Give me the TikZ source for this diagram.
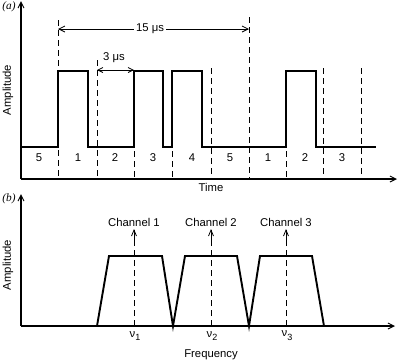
\documentclass[tikz,border=0pt]{standalone}
\usepackage{fontspec}
\setmainfont{Liberation Sans}
\newfontfamily\seriffont{Liberation Serif}
\usetikzlibrary{arrows.meta}
\newcommand{\nusub}[1]{ν\raisebox{-0.35em}{\fontsize{9}{9}\selectfont #1}}
\begin{document}
\begin{tikzpicture}[x=1pt,y=-1pt,
  axisline/.style={line width=1.3pt,-{Straight Barb[length=6pt,width=6pt,line width=1pt]}},
  signal/.style={line width=1.9pt,line join=miter,line cap=rect},
  guide/.style={line width=0.9pt,dash pattern=on 6pt off 4pt},
  dimarrow/.style={line width=0.8pt},
  lbl/.style={font=\fontsize{11.3}{13}\selectfont,inner sep=0pt},
  tag/.style={font=\seriffont\itshape\fontsize{11.3}{13}\selectfont,inner sep=0pt}]
\useasboundingbox (0,0) rectangle (400,362);

% ---------------- (a) ----------------
\node[tag] (taga) at (9,7) {(a)};
\coordinate (ao) at (21,179);
\coordinate (ay) at (21,1);
\coordinate (ax) at (397,179);
\draw[axisline] (ao) -- (ay);
\draw[axisline] (ao) -- (ax);
\node[lbl,rotate=90] (ampa) at (8,90) {Amplitude};
\node[lbl] (time) at (211,187) {Time};

% dashed slot boundaries
\draw[guide] (58,20) -- (58,179);
\draw[guide] (97,60) -- (97,179);
\draw[guide] (134,71) -- (134,179);
\draw[guide] (172,71) -- (172,179);
\draw[guide] (211,68) -- (211,179);
\draw[guide] (249,17) -- (249,179);
\draw[guide] (286,71) -- (286,179);
\draw[guide] (323,68) -- (323,179);
\draw[guide] (361,68) -- (361,179);

% signal
\draw[signal] (21,147) -- (58,147) -- (58,71) -- (88,71) -- (88,147) -- (134,147)
  -- (134,71) -- (163,71) -- (163,147) -- (172,147) -- (172,71) -- (202,71)
  -- (202,147) -- (286,147) -- (286,71) -- (316,71) -- (316,147) -- (375,147);

% slot numbers
\foreach \x/\t [count=\i] in {39/5,78/1,115/2,153/3,192/4,230/5,268/1,305/2,342/3}
  \node[lbl] (slot\i) at (\x,158) {\t};

% 15 us
\node[lbl,fill=white,inner sep=2pt] (fifteen) at (150,29) {15 μs};
\coordinate (fl) at (58,29);
\coordinate (fr) at (249,29);
\draw[dimarrow,-{Straight Barb[length=6pt,width=6pt]}] (fifteen) -- (fl);
\draw[dimarrow,-{Straight Barb[length=6pt,width=6pt]}] (fifteen) -- (fr);

% 3 us
\node[lbl] (three) at (114,58) {3 μs};
\coordinate (tl) at (97,70);
\coordinate (tr) at (134,70);
\draw[dimarrow,{Straight Barb[length=5pt,width=5pt]}-{Straight Barb[length=5pt,width=5pt]}] (tl) -- (tr);

% ---------------- (b) ----------------
\node[tag] (tagb) at (9,199) {(b)};
\coordinate (bo) at (21,326);
\coordinate (by) at (21,194);
\coordinate (bx) at (395,326);
\draw[axisline] (bo) -- (by);
\draw[axisline] (bo) -- (bx);
\node[lbl,rotate=90] (ampb) at (8,265) {Amplitude};
\node[lbl] (freq) at (211,355) {Frequency};

\draw[signal,line cap=butt] (97,326) -- (109,256) -- (162,256) -- (173,326) -- (185,256)
  -- (237,256) -- (249,326) -- (260,256) -- (312,256) -- (324,326);

\foreach \x/\i in {134/1,211/2,286/3}{
  \coordinate (c\i b) at (\x,326);
  \coordinate (c\i t) at (\x,229);
  \draw[guide] (c\i b) -- (\x,238);
  \draw[dimarrow,-{Straight Barb[length=6pt,width=5pt]}] (\x,240) -- (c\i t);
  \node[lbl] (ch\i) at (\x,222) {Channel \i};
  \node[lbl] (nu\i) at (\x+1,336) {\nusub{\i}};
}
\end{tikzpicture}
\end{document}
